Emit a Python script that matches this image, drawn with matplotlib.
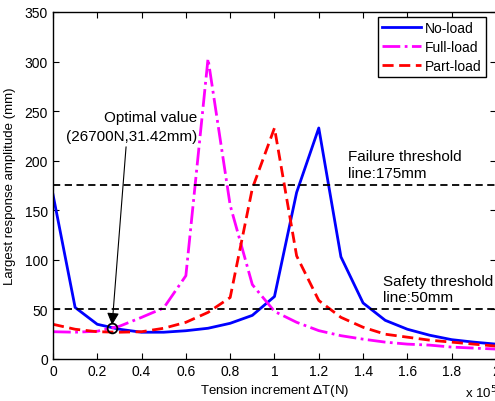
import matplotlib
matplotlib.use("Agg")
import matplotlib.pyplot as plt
from matplotlib.ticker import FormatStrFormatter, MultipleLocator

plt.rcParams['font.family'] = ['Liberation Sans', 'DejaVu Sans']

# tension increment (x 10^5 N)
tension = [0.0, 0.1, 0.2, 0.3, 0.4, 0.5, 0.6, 0.7, 0.8, 0.9, 1.0,
           1.1, 1.2, 1.3, 1.4, 1.5, 1.6, 1.7, 1.8, 1.9, 2.0]

# largest response amplitude (mm)
no_load = [166, 52, 35, 30, 27, 27, 28.5, 31, 36, 44, 63,
           168, 233, 103, 56.5, 39, 30, 24, 19.5, 17, 15]
full_load = [27.5, 27, 28, 33, 42, 51.5, 84, 303, 155, 75, 48,
             37, 28.6, 23.5, 20, 17, 15, 14, 12, 11, 10]
part_load = [35, 30, 27.5, 27, 27.5, 31, 37, 47, 62, 172, 233,
             104, 59, 42, 32, 25, 22, 19, 17, 15, 13]

failure_level = 175
safety_level = 50
optimal = (0.267, 31.42)

fig = plt.figure(figsize=(4.95, 4.02), dpi=100)
ax = fig.add_axes([0.107, 0.1045, 0.895, 0.8632])

ax.plot(tension, no_load, color='blue', lw=2, label='No-load')
ax.plot(tension, full_load, color='magenta', lw=2, ls='-.', label='Full-load')
ax.plot(tension, part_load, color='red', lw=2, ls=(0, (4, 2)), label='Part-load')

ax.axhline(failure_level, color='black', lw=1.3, ls=(0, (4, 2.5)))
ax.axhline(safety_level, color='black', lw=1.3, ls=(0, (4, 2.5)))

# optimal point with arrow from the label
ax.plot(*optimal, 'o', mfc='none', mec='black', ms=7, mew=1.3)
ax.annotate('', xy=(optimal[0], optimal[1] + 3), xytext=(0.33, 214),
            arrowprops=dict(arrowstyle='-|>', color='black', lw=0.8,
                            mutation_scale=18, shrinkA=0, shrinkB=0))
ax.text(0.65, 218, 'Optimal value\n(26700N,31.42mm)', ha='right', va='bottom',
        fontsize=11, linespacing=1.45)

ax.text(1.33, 181, 'Failure threshold\nline:175mm', fontsize=11,
        ha='left', va='bottom', linespacing=1.2)
ax.text(1.49, 55, 'Safety threshold\nline:50mm', fontsize=11,
        ha='left', va='bottom', linespacing=1.2)

ax.set_xlim(0, 2)
ax.set_ylim(0, 350)
ax.xaxis.set_major_locator(MultipleLocator(0.2))
ax.yaxis.set_major_locator(MultipleLocator(50))
ax.xaxis.set_major_formatter(FormatStrFormatter('%g'))
ax.tick_params(direction='in', top=True, right=True, labelsize=10, length=4)
for s in ax.spines.values():
    s.set_linewidth(1.0)

ax.set_xlabel('Tension increment $\\Delta$T(N)', fontsize=9.5, labelpad=3)
ax.set_ylabel('Largest response amplitude (mm)', fontsize=9.5, labelpad=6)
fig.text(465 / 495, 1 - 393 / 402, 'x 10$^5$', fontsize=9.5, ha='left', va='center')

leg = ax.legend(loc='upper right', bbox_to_anchor=(0.977, 0.986), fontsize=10,
                fancybox=False, framealpha=1, edgecolor='black', borderpad=0.3,
                handlelength=2.8, handletextpad=0.3, labelspacing=0.35,
                borderaxespad=0)
leg.get_frame().set_linewidth(1.0)

fig.savefig('out.png', dpi=100)
